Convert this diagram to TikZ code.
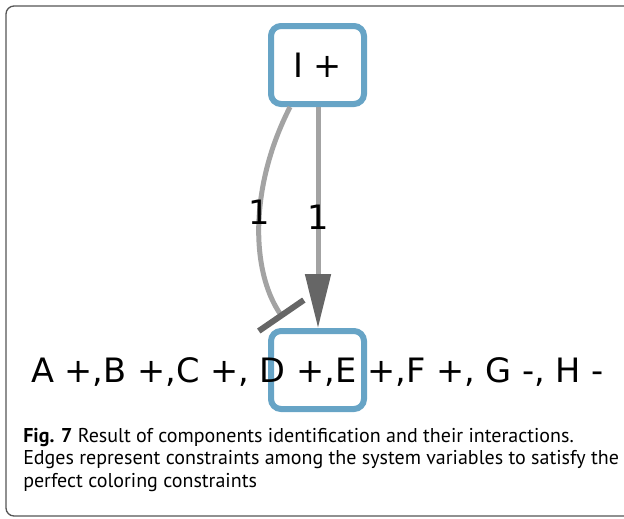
\documentclass[tikz,border=0pt]{standalone}
\usepackage{fontspec}
\setmainfont{DejaVu Sans}
\newfontfamily\capfont{PT Sans}
\usetikzlibrary{arrows.meta}
\definecolor{nodeblue}{HTML}{67A4C6}
\definecolor{edgegray}{HTML}{A3A3A3}
\definecolor{tipgray}{HTML}{666666}
\definecolor{framegray}{HTML}{555555}
\begin{document}
\begin{tikzpicture}[x=0.75pt,y=-0.75pt,
    comp/.style={draw=nodeblue, line width=4.5pt, rounded corners=7.5pt,
      minimum width=69.75pt, minimum height=58.5pt, inner sep=0pt},
    lab/.style={font=\fontsize{25.2}{30}\selectfont, inner sep=0pt},
    edge/.style={draw=edgegray, line width=3.75pt},
    caption/.style={font=\capfont\fontsize{15}{18}\selectfont, inner sep=0pt, anchor=base west}]
    \clip (0,0) rectangle (624,518);
    \draw [framegray, line width=1pt, rounded corners=6pt] (6,6) rectangle (660,516);
    % nodes
    \node [comp, lab] (I) at (317.5,65) {I +};
    \node [comp] (J) at (317.5,370) {};
    \node [lab, anchor=base] (Jtxt) at (317.5,382) {A +,B +,C +, D +,E +,F +, G -, H -};
    \coordinate (teeend) at (283,318);
    % edges
    \draw [edge, -{Triangle[length=40.5pt, width=18.75pt, color=tipgray]}]
        ([xshift=0.375pt]I.south) -- node [lab, pos=0.5] (w1) {1} ([xshift=0.375pt]J.north);
    \draw [edge, -{Bar[width=41pt, line width=4.5pt, color=tipgray]}]
        ([xshift=-20.6pt]I.south) .. controls (250,185) and (250,270) .. node [lab, pos=0.45] (w2) {1} (teeend);
    % caption
    \node [caption] (cap1) at (23,442) {\textbf{Fig. 7} Result of components identification and their interactions.};
    \node [caption] (cap2) at (23,464) {Edges represent constraints among the system variables to satisfy the};
    \node [caption] (cap3) at (23,487) {perfect coloring constraints};
\end{tikzpicture}
\end{document}
